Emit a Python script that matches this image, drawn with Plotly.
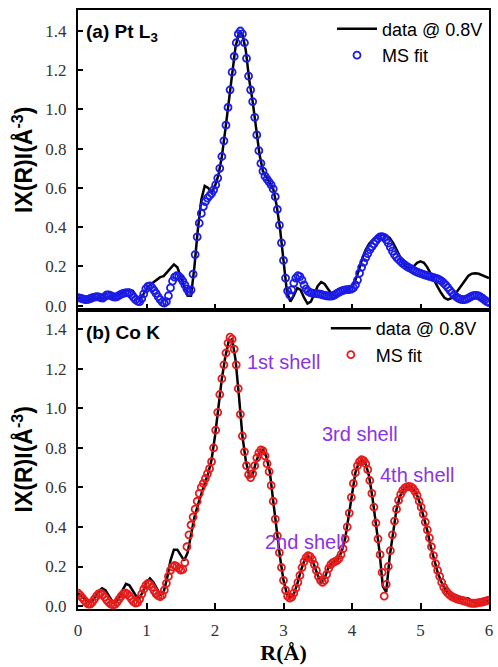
import numpy as np
import plotly.graph_objects as go
from plotly.subplots import make_subplots

# R grids (Å): measured spectra and multiple-scattering fits
R_DATA = np.round(np.arange(121) * 0.05, 2)
R_FIT = np.round(np.arange(201) * 0.03, 2)

# |χ(R)| for Pt L3 edge, data @ 0.8 V
PT_DATA = [
    0.040, 0.035, 0.030, 0.030, 0.035, 0.040, 0.040, 0.035, 0.035, 0.040,
    0.045, 0.050, 0.055, 0.065, 0.075, 0.080, 0.075, 0.050, 0.030, 0.055,
    0.085, 0.105, 0.120, 0.135, 0.145, 0.150, 0.170, 0.195, 0.210, 0.195,
    0.150, 0.100, 0.050, 0.050, 0.200, 0.390, 0.540, 0.610, 0.600, 0.575,
    0.610, 0.665, 0.760, 0.895, 1.040, 1.190, 1.320, 1.390, 1.385, 1.300,
    1.150, 1.040, 0.900, 0.770, 0.685, 0.652, 0.625, 0.595, 0.510, 0.390,
    0.230, 0.070, 0.020, 0.050, 0.090, 0.080, 0.040, 0.010, 0.020, 0.060,
    0.100, 0.120, 0.110, 0.085, 0.060, 0.050, 0.050, 0.060, 0.070, 0.080,
    0.100, 0.130, 0.180, 0.240, 0.285, 0.315, 0.335, 0.350, 0.360, 0.362,
    0.358, 0.345, 0.320, 0.285, 0.250, 0.215, 0.195, 0.190, 0.200, 0.218,
    0.225, 0.218, 0.195, 0.160, 0.125, 0.095, 0.065, 0.040, 0.030, 0.038,
    0.055, 0.080, 0.105, 0.130, 0.152, 0.163, 0.165, 0.162, 0.156, 0.148,
    0.140,
]

# |χ(R)| for Pt L3 edge, MS fit
PT_FIT = [
    0.040, 0.038, 0.035, 0.032, 0.030, 0.032, 0.036, 0.040, 0.043, 0.045,
    0.044, 0.040, 0.038, 0.045, 0.055, 0.055, 0.050, 0.045, 0.043, 0.045,
    0.052, 0.058, 0.062, 0.065, 0.066, 0.064, 0.055, 0.042, 0.030, 0.022,
    0.020, 0.035, 0.060, 0.085, 0.098, 0.100, 0.092, 0.078, 0.062, 0.045,
    0.030, 0.018, 0.012, 0.020, 0.050, 0.090, 0.125, 0.145, 0.152, 0.150,
    0.140, 0.125, 0.105, 0.085, 0.068, 0.080, 0.160, 0.260, 0.350, 0.420,
    0.470, 0.505, 0.530, 0.548, 0.560, 0.572, 0.590, 0.615, 0.650, 0.700,
    0.760, 0.840, 0.920, 1.010, 1.100, 1.190, 1.270, 1.340, 1.385, 1.400,
    1.385, 1.340, 1.260, 1.170, 1.100, 1.040, 0.960, 0.870, 0.790, 0.725,
    0.685, 0.660, 0.645, 0.630, 0.615, 0.595, 0.555, 0.490, 0.410, 0.320,
    0.230, 0.140, 0.075, 0.055, 0.080, 0.115, 0.140, 0.152, 0.148, 0.130,
    0.105, 0.085, 0.072, 0.066, 0.063, 0.062, 0.061, 0.060, 0.058, 0.055,
    0.052, 0.050, 0.048, 0.048, 0.050, 0.055, 0.062, 0.068, 0.074, 0.078,
    0.080, 0.081, 0.082, 0.084, 0.090, 0.105, 0.130, 0.165, 0.195, 0.220,
    0.245, 0.265, 0.285, 0.300, 0.315, 0.330, 0.342, 0.350, 0.352, 0.348,
    0.335, 0.318, 0.298, 0.278, 0.260, 0.246, 0.235, 0.225, 0.215, 0.207,
    0.200, 0.194, 0.188, 0.182, 0.176, 0.171, 0.167, 0.163, 0.159, 0.155,
    0.152, 0.149, 0.146, 0.143, 0.140, 0.136, 0.131, 0.124, 0.115, 0.104,
    0.092, 0.078, 0.065, 0.054, 0.045, 0.038, 0.033, 0.030, 0.030, 0.033,
    0.038, 0.044, 0.049, 0.052, 0.052, 0.049, 0.043, 0.036, 0.028, 0.020,
    0.015,
]

# |χ(R)| for Co K edge, data @ 0.8 V
CO_DATA = [
    0.065, 0.050, 0.030, 0.020, 0.022, 0.045, 0.075, 0.090, 0.080, 0.050,
    0.025, 0.020, 0.040, 0.080, 0.112, 0.105, 0.080, 0.050, 0.042, 0.075,
    0.120, 0.140, 0.120, 0.085, 0.058, 0.070, 0.140, 0.230, 0.285, 0.285,
    0.255, 0.230, 0.270, 0.370, 0.450, 0.510, 0.570, 0.620, 0.670, 0.740,
    0.860, 1.020, 1.150, 1.260, 1.340, 1.350, 1.245, 1.060, 0.860, 0.735,
    0.660, 0.665, 0.730, 0.775, 0.790, 0.755, 0.680, 0.530, 0.385, 0.245,
    0.130, 0.060, 0.040, 0.060, 0.110, 0.175, 0.225, 0.252, 0.245, 0.205,
    0.155, 0.122, 0.140, 0.190, 0.215, 0.225, 0.240, 0.275, 0.340, 0.450,
    0.570, 0.675, 0.725, 0.740, 0.720, 0.655, 0.545, 0.415, 0.280, 0.100,
    0.070, 0.250, 0.380, 0.490, 0.555, 0.590, 0.603, 0.605, 0.590, 0.560,
    0.510, 0.450, 0.380, 0.300, 0.230, 0.170, 0.125, 0.090, 0.065, 0.050,
    0.040, 0.035, 0.035, 0.040, 0.038, 0.025, 0.015, 0.014, 0.018, 0.024,
    0.030,
]

# |χ(R)| for Co K edge, MS fit
CO_FIT = [
    0.065, 0.055, 0.042, 0.030, 0.018, 0.010, 0.010, 0.020, 0.035, 0.050,
    0.062, 0.065, 0.058, 0.045, 0.030, 0.018, 0.010, 0.006, 0.008, 0.020,
    0.035, 0.050, 0.062, 0.066, 0.062, 0.050, 0.035, 0.022, 0.015, 0.018,
    0.035, 0.060, 0.085, 0.105, 0.115, 0.110, 0.095, 0.078, 0.062, 0.052,
    0.048, 0.055, 0.080, 0.115, 0.150, 0.180, 0.198, 0.205, 0.200, 0.190,
    0.182, 0.185, 0.220, 0.300, 0.360, 0.410, 0.450, 0.490, 0.530, 0.570,
    0.600, 0.620, 0.645, 0.670, 0.695, 0.730, 0.800, 0.890, 0.980, 1.070,
    1.150, 1.220, 1.280, 1.330, 1.360, 1.350, 1.300, 1.220, 1.100, 0.970,
    0.860, 0.780, 0.710, 0.665, 0.650, 0.670, 0.710, 0.750, 0.775, 0.790,
    0.785, 0.760, 0.720, 0.680, 0.610, 0.530, 0.440, 0.355, 0.270, 0.195,
    0.130, 0.080, 0.050, 0.040, 0.045, 0.065, 0.090, 0.120, 0.155, 0.195,
    0.225, 0.245, 0.255, 0.250, 0.235, 0.210, 0.180, 0.150, 0.130, 0.120,
    0.130, 0.160, 0.190, 0.210, 0.220, 0.225, 0.230, 0.240, 0.260, 0.290,
    0.340, 0.400, 0.470, 0.550, 0.620, 0.675, 0.710, 0.730, 0.740, 0.735,
    0.720, 0.690, 0.635, 0.570, 0.500, 0.420, 0.340, 0.260, 0.170, 0.050,
    0.110, 0.200, 0.280, 0.360, 0.430, 0.490, 0.535, 0.565, 0.585, 0.597,
    0.603, 0.605, 0.603, 0.595, 0.580, 0.560, 0.530, 0.500, 0.465, 0.425,
    0.385, 0.345, 0.300, 0.255, 0.215, 0.180, 0.150, 0.120, 0.095, 0.078,
    0.065, 0.055, 0.048, 0.043, 0.038, 0.034, 0.031, 0.028, 0.025, 0.022,
    0.018, 0.015, 0.014, 0.014, 0.015, 0.017, 0.019, 0.021, 0.024, 0.027,
    0.030,
]

X_TICKS = [0, 1, 2, 3, 4, 5, 6]
Y_TICKS = [0.0, 0.2, 0.4, 0.6, 0.8, 1.0, 1.2, 1.4]

SHELL_LABELS = ["1st shell", "2nd shell", "3rd shell", "4th shell"]
SHELL_POS_R = [3.00, 3.32, 4.12, 4.96]
SHELL_POS_Y = [1.233, 0.325, 0.868, 0.665]

LINE_NAME = "data @ 0.8V"
FIT_NAME = "MS fit"

fig = make_subplots(rows=2, cols=1, vertical_spacing=0)

fig.add_trace(go.Scatter(x=R_DATA, y=PT_DATA, mode="lines", name=LINE_NAME,
                         line=dict(color="black", width=2.5), legend="legend"),
              row=1, col=1)
fig.add_trace(go.Scatter(x=R_FIT, y=PT_FIT, mode="markers", name=FIT_NAME,
                         marker=dict(symbol="circle-open", size=7, color="#1c1ce8",
                                     line=dict(width=1.8)),
                         legend="legend"),
              row=1, col=1)
fig.add_trace(go.Scatter(x=R_DATA, y=CO_DATA, mode="lines", name=LINE_NAME,
                         line=dict(color="black", width=2.5), legend="legend2"),
              row=2, col=1)
fig.add_trace(go.Scatter(x=R_FIT, y=CO_FIT, mode="markers", name=FIT_NAME,
                         marker=dict(symbol="circle-open", size=7, color="#e61c1c",
                                     line=dict(width=1.8)),
                         legend="legend2"),
              row=2, col=1)

tick_font = dict(family="Liberation Serif, Times New Roman, serif", size=17,
                 color="#333333")
frame = dict(showline=True, linewidth=2, linecolor="black", mirror=True,
             showgrid=False, zeroline=False, ticks="inside", tickcolor="black",
             tickwidth=1.5, tickfont=tick_font)

y_title = dict(text="<b>IX(R)I(Å<sup>-3</sup>)</b>",
               font=dict(family="Liberation Sans", size=23, color="black"),
               standoff=6)

fig.update_xaxes(range=[0, 6], tickvals=X_TICKS, ticklen=6, **frame)
fig.update_xaxes(showticklabels=False, row=1, col=1)
fig.update_xaxes(showticklabels=True, ticklabelstandoff=5,
                 title=dict(text="<b>R(Å)</b>",
                            font=dict(family="Liberation Serif, Times New Roman, serif",
                                      size=22, color="black"),
                            standoff=2),
                 row=2, col=1)
fig.update_yaxes(tickvals=Y_TICKS, tickformat=".1f", ticklen=5,
                 ticklabelstandoff=6, title=y_title, **frame)
fig.update_yaxes(range=[-0.020, 1.507], row=1, col=1)
fig.update_yaxes(range=[-0.015, 1.500], row=2, col=1)

legend_style = dict(font=dict(family="Liberation Sans", size=18, color="black"),
                    bgcolor="rgba(0,0,0,0)", xanchor="left", yanchor="top",
                    tracegroupgap=0, itemwidth=40)
fig.update_layout(
    legend=dict(x=0.618, y=0.999, **legend_style),
    legend2=dict(x=0.603, y=0.499, **legend_style),
)

annotations = [
    dict(text="<b>(a) Pt L<sub>3</sub></b>", x=0.015, y=0.9616),
    dict(text="<b>(b) Co K</b>", x=0.015, y=0.4608),
]
for a in annotations:
    fig.add_annotation(xref="paper", yref="paper", xanchor="left", yanchor="middle",
                       showarrow=False,
                       font=dict(family="Liberation Sans", size=19, color="black"), **a)

for label, rx, ry in zip(SHELL_LABELS, SHELL_POS_R, SHELL_POS_Y):
    fig.add_annotation(x=rx, y=ry, xref="x2", yref="y2", text=label, showarrow=False,
                       font=dict(family="Liberation Sans", size=20, color="#8b32e6"))

fig.update_layout(
    width=498, height=667,
    margin=dict(l=78, r=5, t=10, b=58),
    plot_bgcolor="white", paper_bgcolor="white",
    showlegend=True,
)

fig.write_html("out.html")
